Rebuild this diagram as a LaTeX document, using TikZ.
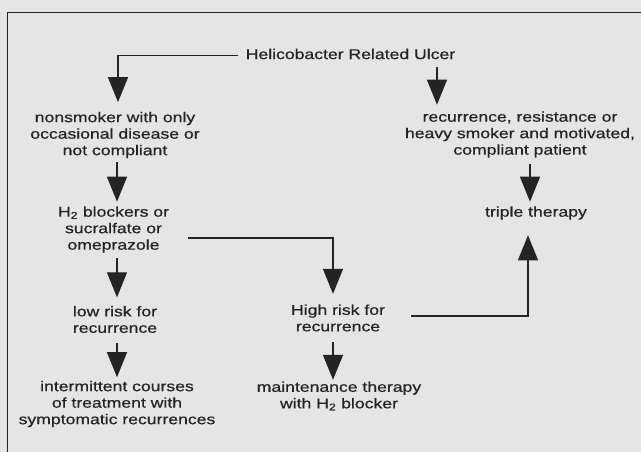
\documentclass[tikz,border=0pt]{standalone}
\usepackage{fontspec}
\setmainfont[FakeStretch=1.24,FakeBold=0.6]{Liberation Sans}
\usetikzlibrary{arrows.meta,calc}
\definecolor{bg}{RGB}{229,229,227}
\definecolor{ink}{RGB}{36,36,36}
\begin{document}
\begin{tikzpicture}[x=1pt,y=-1pt,
  lbl/.style={align=center,inner sep=0pt,text=ink,font=\fontsize{14.2}{16.5}\selectfont},
  arr/.style={draw=ink,line width=1.3pt,-{Triangle[length=25pt,width=20pt]}},
  frame/.style={draw=ink,line width=1.1pt}]
\useasboundingbox (0,0) rectangle (641,452);
\fill[bg] (0,0) rectangle (641,452);
\clip (0,0) rectangle (641,452);
\draw[frame] (7.3,470) |- (660,12.7);
\node[lbl] (hel) at (350.5,54) {Helicobacter Related Ulcer};
\node[lbl] (nons) at (115,135) {nonsmoker with only\\occasional disease or\\not compliant};
\node[lbl] (rec) at (520,134.5) {recurrence, resistance or\\heavy smoker and motivated,\\compliant patient};
\node[lbl] (h2) at (113.5,229.5) {H\textsubscript{2} blockers or\\sucralfate or\\omeprazole};
\node[lbl] (triple) at (536,213) {triple therapy};
\node[lbl] (low) at (115,319.5) {low risk for\\recurrence};
\node[lbl] (high) at (338,318) {High risk for\\recurrence};
\node[lbl] (inter) at (117,404) {intermittent courses\\of treatment with\\symptomatic recurrences};
\node[lbl] (maint) at (339,396) {maintenance therapy\\with H\textsubscript{2} blocker};
% connectors
\draw[arr] ($(hel.west)+(-8,1.5)$) -| ($(nons.north)+(3,-9.5)$);
\draw[arr] ($(hel.south)+(86.5,8)$) -- ($(rec.north)+(-83,-6.5)$);
\draw[arr] ($(nons.south)+(2,4)$) -- ($(h2.north)+(3.5,-4.5)$);
\draw[arr] ($(h2.south)+(3.5,5.5)$) -- ($(low.north)+(2,-8.5)$);
\draw[arr] ($(h2.east)+(19,8.5)$) -| ($(high.north)+(-5,-10.5)$);
\draw[arr] ($(low.south)+(2,9.5)$) -- ($(inter.north)+(0,-3.5)$);
\draw[arr] ($(high.south)+(-5,10.5)$) -- ($(maint.north)+(-6,-1.5)$);
\draw[arr] ($(high.east)+(26,-2)$) -| ($(triple.south)+(-8,15.5)$);
\draw[arr] ($(rec.south)+(10,6.5)$) -- ($(triple.north)+(-6,-4.5)$);
\end{tikzpicture}
\end{document}
